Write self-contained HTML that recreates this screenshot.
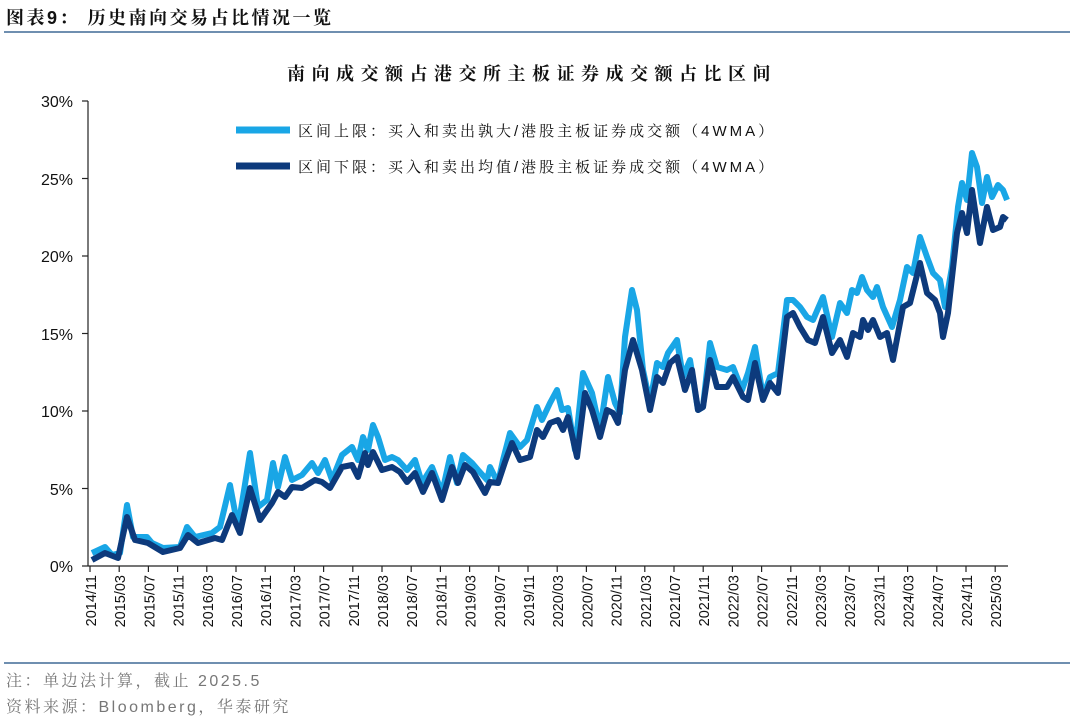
<!DOCTYPE html>
<html><head><meta charset="utf-8"><style>
body{margin:0;background:#fff;}
svg{display:block;font-family:"Liberation Sans","Noto Sans CJK SC",sans-serif;}
.cj{font-family:"Liberation Sans","Noto Serif CJK SC",serif;}
</style></head><body>
<svg width="1080" height="721" viewBox="0 0 1080 721">
<text class="cj" x="6" y="24" font-size="18" font-weight="bold" fill="#111" letter-spacing="2.5">图表9：  历史南向交易占比情况一览</text>
<line x1="4" y1="32" x2="1070" y2="32" stroke="#6f8fb0" stroke-width="2"/>
<text class="cj" x="532" y="80" font-size="18" font-weight="bold" text-anchor="middle" fill="#111" letter-spacing="6.5">南向成交额占港交所主板证券成交额占比区间</text>
<g font-size="16" fill="#111" text-anchor="end">
<text x="73" y="107">30%</text><text x="73" y="185">25%</text><text x="73" y="262">20%</text>
<text x="73" y="340">15%</text><text x="73" y="417">10%</text><text x="73" y="495">5%</text><text x="73" y="572">0%</text>
</g>
<g stroke="#222" stroke-width="1.2">
<line x1="88" y1="101" x2="88" y2="566"/><line x1="88" y1="566" x2="1008" y2="566"/>
<line x1="82" y1="101" x2="88" y2="101"/><line x1="82" y1="178.5" x2="88" y2="178.5"/><line x1="82" y1="256" x2="88" y2="256"/>
<line x1="82" y1="333.5" x2="88" y2="333.5"/><line x1="82" y1="411" x2="88" y2="411"/><line x1="82" y1="488.5" x2="88" y2="488.5"/><line x1="82" y1="566" x2="88" y2="566"/>
</g>
<polyline fill="none" stroke="#19a6e6" stroke-width="6" stroke-linejoin="round" points="92,553 105,547 112,555 120,553 127,505 133,537 147,537 152,543 163,548 180,547 187,527 195,537 212,533 220,527 230,485 238,528 250,453 258,507 267,500 273,463 278,487 285,457 292,480 302,475 312,463 318,473 325,460 332,480 342,455 352,447 358,460 363,437 368,450 373,425 378,437 385,460 392,457 398,460 407,470 415,460 422,483 432,467 442,493 450,457 457,483 463,455 472,463 478,470 487,480 490,467 498,483 503,460 510,433 520,447 527,440 537,407 542,420 550,403 557,390 562,410 568,408 575,450 583,373 592,393 600,430 608,377 615,403 620,413 625,337 632,290 637,310 643,370 650,403 657,363 663,367 668,353 677,340 683,377 690,360 698,410 703,407 710,343 717,367 727,370 733,367 742,390 748,373 755,347 763,397 770,377 778,373 787,300 793,300 800,307 807,317 813,320 823,297 832,337 840,303 847,313 852,290 857,293 862,277 867,290 873,297 877,287 883,307 892,327 900,300 907,267 913,273 920,237 927,257 933,273 940,280 945,307 952,267 958,207 962,183 967,200 972,153 977,167 982,203 987,177 992,197 998,185 1003,190 1007,200"/>
<polyline fill="none" stroke="#0d3a7c" stroke-width="6" stroke-linejoin="round" points="92,560 105,553 118,558 127,517 135,540 148,543 163,552 180,548 188,535 198,543 215,538 222,540 232,515 240,533 250,488 260,520 272,503 278,492 285,497 292,487 302,488 315,480 322,482 330,488 342,467 352,465 358,477 365,453 368,465 373,452 382,470 392,467 400,472 407,482 415,473 423,492 432,473 442,500 452,467 458,483 465,465 473,472 485,493 490,482 498,483 505,462 512,443 520,460 530,457 537,430 543,437 550,423 558,420 563,430 568,417 577,457 585,393 592,410 600,437 607,410 613,413 618,423 625,370 633,340 642,370 650,410 657,377 663,383 670,363 677,357 685,390 692,370 698,410 703,407 710,360 717,387 727,387 733,377 743,397 748,400 755,363 763,400 770,383 778,393 787,317 793,313 800,327 808,340 815,343 823,317 832,353 840,340 847,357 853,333 860,337 863,320 868,330 873,320 880,337 887,333 893,360 903,307 910,303 920,263 927,293 935,300 940,313 943,337 948,313 957,233 962,213 967,233 972,190 977,223 980,243 987,207 993,230 1000,227 1003,217 1007,220"/>
<line x1="236" y1="130" x2="290" y2="130" stroke="#19a6e6" stroke-width="7"/>
<text class="cj" x="298" y="136" font-size="15" fill="#111" letter-spacing="3">区间上限：买入和卖出孰大/港股主板证券成交额（4WMA）</text>
<line x1="236" y1="166" x2="290" y2="166" stroke="#0d3a7c" stroke-width="7"/>
<text class="cj" x="298" y="172" font-size="15" fill="#111" letter-spacing="3">区间下限：买入和卖出均值/港股主板证券成交额（4WMA）</text>
<g font-size="14.5" fill="#111" text-anchor="end">
<text transform="translate(96,575) rotate(-90)">2014/11</text>
<text transform="translate(125.2,575) rotate(-90)">2015/03</text>
<text transform="translate(154.4,575) rotate(-90)">2015/07</text>
<text transform="translate(183.6,575) rotate(-90)">2015/11</text>
<text transform="translate(212.8,575) rotate(-90)">2016/03</text>
<text transform="translate(242,575) rotate(-90)">2016/07</text>
<text transform="translate(271.2,575) rotate(-90)">2016/11</text>
<text transform="translate(300.4,575) rotate(-90)">2017/03</text>
<text transform="translate(329.6,575) rotate(-90)">2017/07</text>
<text transform="translate(358.8,575) rotate(-90)">2017/11</text>
<text transform="translate(388,575) rotate(-90)">2018/03</text>
<text transform="translate(417.2,575) rotate(-90)">2018/07</text>
<text transform="translate(446.4,575) rotate(-90)">2018/11</text>
<text transform="translate(475.6,575) rotate(-90)">2019/03</text>
<text transform="translate(504.8,575) rotate(-90)">2019/07</text>
<text transform="translate(534,575) rotate(-90)">2019/11</text>
<text transform="translate(563.2,575) rotate(-90)">2020/03</text>
<text transform="translate(592.4,575) rotate(-90)">2020/07</text>
<text transform="translate(621.6,575) rotate(-90)">2020/11</text>
<text transform="translate(650.8,575) rotate(-90)">2021/03</text>
<text transform="translate(680,575) rotate(-90)">2021/07</text>
<text transform="translate(709.2,575) rotate(-90)">2021/11</text>
<text transform="translate(738.4,575) rotate(-90)">2022/03</text>
<text transform="translate(767.6,575) rotate(-90)">2022/07</text>
<text transform="translate(796.8,575) rotate(-90)">2022/11</text>
<text transform="translate(826,575) rotate(-90)">2023/03</text>
<text transform="translate(855.2,575) rotate(-90)">2023/07</text>
<text transform="translate(884.4,575) rotate(-90)">2023/11</text>
<text transform="translate(913.6,575) rotate(-90)">2024/03</text>
<text transform="translate(942.8,575) rotate(-90)">2024/07</text>
<text transform="translate(972,575) rotate(-90)">2024/11</text>
<text transform="translate(1001.2,575) rotate(-90)">2025/03</text>
</g>
<g stroke="#222" stroke-width="1.2">
<line x1="90" y1="566" x2="90" y2="572"/><line x1="119.2" y1="566" x2="119.2" y2="572"/><line x1="148.4" y1="566" x2="148.4" y2="572"/><line x1="177.6" y1="566" x2="177.6" y2="572"/><line x1="206.8" y1="566" x2="206.8" y2="572"/><line x1="236" y1="566" x2="236" y2="572"/><line x1="265.2" y1="566" x2="265.2" y2="572"/><line x1="294.4" y1="566" x2="294.4" y2="572"/><line x1="323.6" y1="566" x2="323.6" y2="572"/><line x1="352.8" y1="566" x2="352.8" y2="572"/><line x1="382" y1="566" x2="382" y2="572"/><line x1="411.2" y1="566" x2="411.2" y2="572"/><line x1="440.4" y1="566" x2="440.4" y2="572"/><line x1="469.6" y1="566" x2="469.6" y2="572"/><line x1="498.8" y1="566" x2="498.8" y2="572"/><line x1="528" y1="566" x2="528" y2="572"/><line x1="557.2" y1="566" x2="557.2" y2="572"/><line x1="586.4" y1="566" x2="586.4" y2="572"/><line x1="615.6" y1="566" x2="615.6" y2="572"/><line x1="644.8" y1="566" x2="644.8" y2="572"/><line x1="674" y1="566" x2="674" y2="572"/><line x1="703.2" y1="566" x2="703.2" y2="572"/><line x1="732.4" y1="566" x2="732.4" y2="572"/><line x1="761.6" y1="566" x2="761.6" y2="572"/><line x1="790.8" y1="566" x2="790.8" y2="572"/><line x1="820" y1="566" x2="820" y2="572"/><line x1="849.2" y1="566" x2="849.2" y2="572"/><line x1="878.4" y1="566" x2="878.4" y2="572"/><line x1="907.6" y1="566" x2="907.6" y2="572"/><line x1="936.8" y1="566" x2="936.8" y2="572"/><line x1="966" y1="566" x2="966" y2="572"/><line x1="995.2" y1="566" x2="995.2" y2="572"/>
</g>
<line x1="4" y1="663" x2="1070" y2="663" stroke="#6f8fb0" stroke-width="2"/>
<text class="cj" x="6" y="686" font-size="16" fill="#777" letter-spacing="2.5">注：单边法计算，截止 2025.5</text>
<text class="cj" x="6" y="712" font-size="16" fill="#777" letter-spacing="2.5">资料来源：Bloomberg，华泰研究</text>
</svg>
</body></html>
